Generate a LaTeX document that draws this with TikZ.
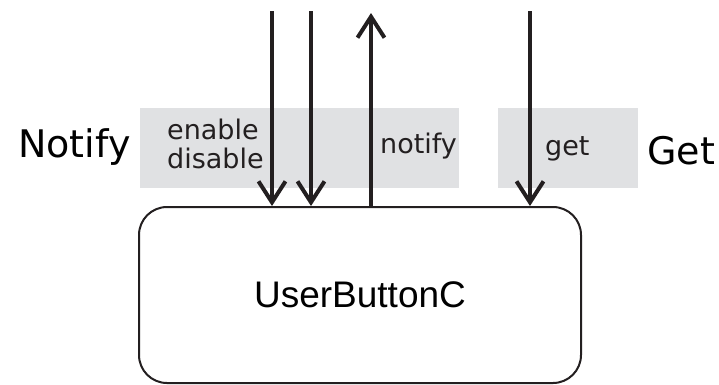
\documentclass[tikz,border=0pt]{standalone}
\usepackage{fontspec}
\setmainfont{DejaVu Sans}
\newfontfamily\boxfont{Liberation Sans}
\usetikzlibrary{arrows.meta}
\definecolor{panel}{RGB}{224,225,227}
\definecolor{ink}{RGB}{35,31,32}
\tikzset{
  panelbox/.style={fill=panel, draw=none, inner sep=0pt},
  lbl/.style={inner sep=0pt, anchor=base west, font=\fontsize{27}{30}\selectfont, text=ink},
  biglbl/.style={inner sep=0pt, anchor=base west, font=\fontsize{38}{42}\selectfont, text=black},
  sig/.style={draw=ink, line width=4pt, -{Straight Barb[length=21pt, width=27pt, line width=4pt]}},
  comp/.style={draw=ink, line width=2pt, rounded corners=28pt, inner sep=0pt,
    minimum width=442pt, minimum height=176pt,
    font=\boxfont\fontsize{37}{40}\selectfont}
}
\begin{document}
\begin{tikzpicture}[x=1pt, y=-1pt]
  \useasboundingbox (0,0) rectangle (719,384);

  % shaded interface panels
  \node[panelbox, minimum width=319pt, minimum height=80pt] (pnotify) at (299.5,148) {};
  \node[panelbox, minimum width=140pt, minimum height=80pt] (pget) at (568,148) {};

  % the component
  \node[comp] (ubc) at (360,295) {UserButtonC};

  % interface names
  \node[biglbl] (nNotify) at (18,157) {Notify};
  \node[biglbl] (nGet) at (647,164) {Get};

  % command and event labels
  \node[lbl] (lenable) at (167,139) {enable};
  \node[lbl] (ldisable) at (167,168) {disable};
  \node[lbl] (lnotify) at (380,153) {notify};
  \node[lbl] (lget) at (545,155) {get};

  % free ends of the connectors
  \coordinate (tEnable) at (272,11);
  \coordinate (tDisable) at (311,11);
  \coordinate (tNotify) at (371,13);
  \coordinate (tGet) at (530,11);

  \draw[sig] (tEnable) -- (tEnable |- ubc.north);
  \draw[sig] (tDisable) -- (tDisable |- ubc.north);
  \draw[sig] (tNotify |- ubc.north) -- (tNotify);
  \draw[sig] (tGet) -- (tGet |- ubc.north);
\end{tikzpicture}
\end{document}
